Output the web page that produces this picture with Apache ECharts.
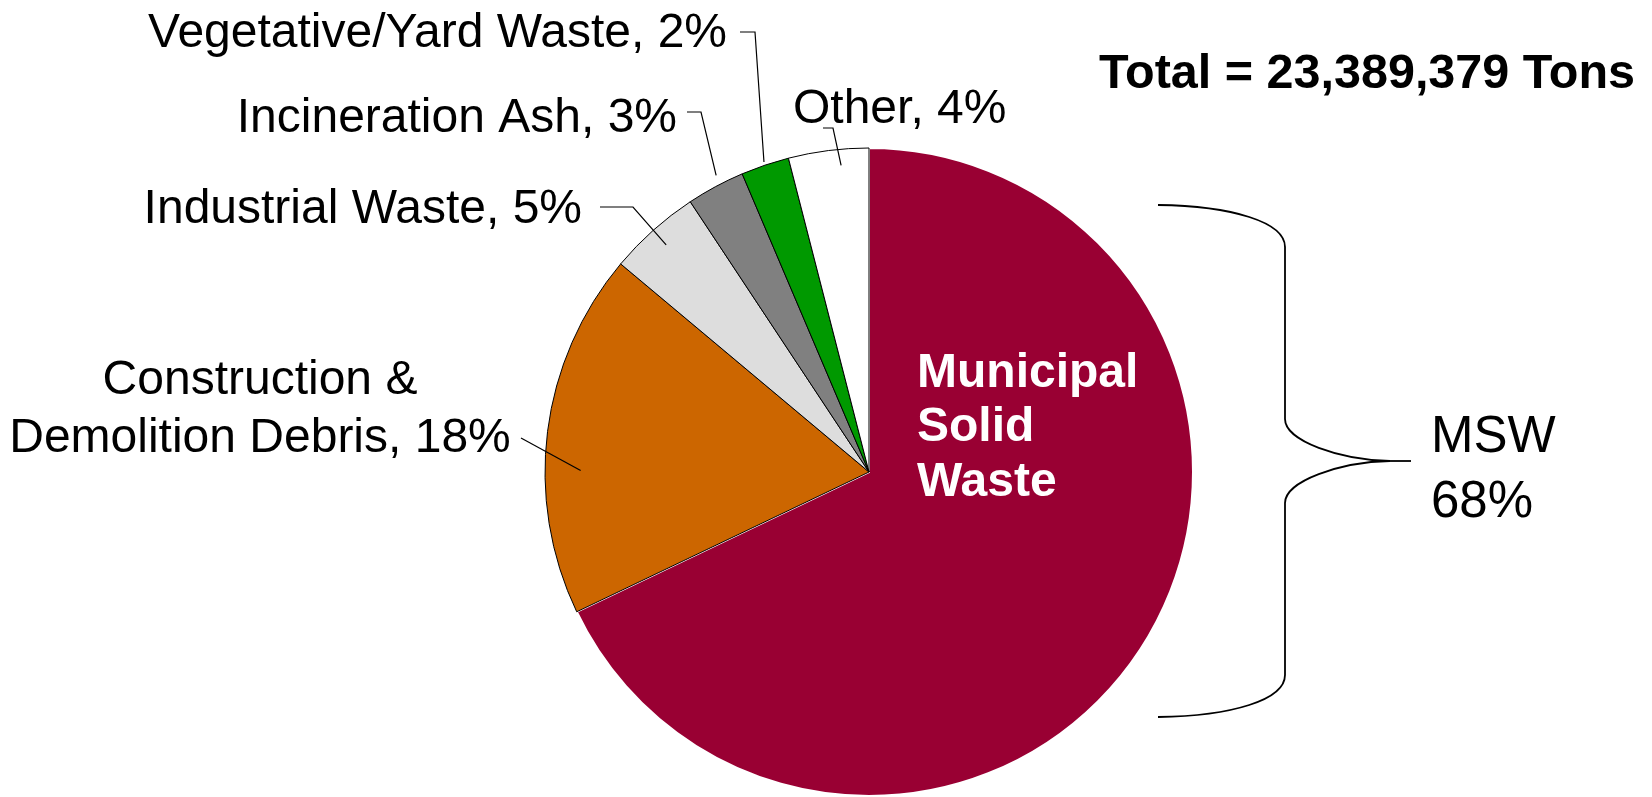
<!DOCTYPE html>
<html>
<head>
<meta charset="utf-8">
<script src="https://cdn.jsdelivr.net/npm/echarts@6/dist/echarts.min.js"></script>
<style>
  html, body { margin: 0; padding: 0; background: #fff; }
  #chart { width: 1652px; height: 797px; }
</style>
</head>
<body>
<div id="chart"></div>
<script>
// slice data, clockwise from 12 o'clock
const categories = ['Municipal Solid Waste', 'Construction & Demolition Debris', 'Industrial Waste', 'Incineration Ash', 'Vegetative/Yard Waste', 'Other'];
const labelNames = ['Municipal\nSolid\nWaste', 'Construction &\nDemolition Debris', 'Industrial Waste', 'Incineration Ash', 'Vegetative/Yard Waste', 'Other'];
const shares = [67.9, 18.2, 4.6, 2.9, 2.4, 4.0];
const totalTons = '23,389,379';
const bracketName = 'MSW';

const sliceColors = ['#990033', '#cc6600', '#dddddd', '#808080', '#009900', '#ffffff'];
const FONT = '"Liberation Sans", Arial, sans-serif';

const cx = 869, cy = 472, R = 324;

// where each label sits, and how its leader runs (start near text, elbow, then into the slice)
const labelSpots = [
  { x: 917, y: 428, align: 'left' },
  { x: 260, y: 410, align: 'center', start: [521, 438], elbow: [521, 438], k: 0.89, dA: -6.9 },
  { x: 582, y: 210, align: 'right', start: [600, 207], elbow: [633, 207], k: 0.94, dA: 0 },
  { x: 677, y: 119, align: 'right', start: [687, 112], elbow: [701, 112], k: 1.03, dA: 1 },
  { x: 727, y: 34, align: 'right', start: [740, 32], elbow: [755, 32], k: 1.01, dA: 0 },
  { x: 793, y: 110, align: 'left', start: [823, 128], elbow: [833, 128], k: 0.95, dA: 2 }
];

const sum = shares.reduce((a, c) => a + c, 0);
const midAngles = [];
let acc = 0;
shares.forEach(v => {
  midAngles.push((acc + v / 2) / sum * 360);
  acc += v;
});

const data = categories.map((name, i) => {
  const item = {
    name: name,
    value: shares[i],
    itemStyle: { color: sliceColors[i], borderColor: '#000', borderWidth: 1 },
  };
  if (i === 0) {
    item.itemStyle.borderColor = '#fff';
    item.itemStyle.borderWidth = 2;
    item.label = { position: 'inside', color: '#fff', fontWeight: 'bold', lineHeight: 54.5 };
  }
  if (i === 1) {
    item.label = { lineHeight: 58 };
  }
  return item;
});

// leader lines drawn above the slices so the part inside a slice stays visible
const leaders = labelSpots.filter(s => s.start).map(s => {
  const i = labelSpots.indexOf(s);
  const a = (midAngles[i] + s.dA) * Math.PI / 180;
  const r = R * s.k;
  const inner = [cx + r * Math.sin(a), cy - r * Math.cos(a)];
  return {
    type: 'polyline',
    silent: true,
    z: 10,
    shape: { points: [s.start, s.elbow, inner] },
    style: { stroke: '#000', lineWidth: 1.2, fill: null },
  };
});

const chart = echarts.init(document.getElementById('chart'));
const mswPct = Math.round(shares[0] / sum * 100);

// curly brace next to the pie
const braceStroke = { stroke: '#000', lineWidth: 1.8, fill: null };
const curve = (x1, y1, c1x, c1y, c2x, c2y, x2, y2) => ({
  type: 'bezierCurve',
  silent: true,
  shape: { x1, y1, cpx1: c1x, cpy1: c1y, cpx2: c2x, cpy2: c2y, x2, y2 },
  style: braceStroke,
});
const seg = (x1, y1, x2, y2) => ({
  type: 'line',
  silent: true,
  shape: { x1, y1, x2, y2 },
  style: braceStroke,
});

const option = {
  animation: false,
  title: {
    text: 'Total = ' + totalTons + ' Tons',
    right: 17,
    top: 50,
    padding: 0,
    textStyle: { fontFamily: FONT, fontSize: 48.5, fontWeight: 'bold', color: '#000' },
  },
  series: [
    {
      type: 'pie',
      center: [cx, cy],
      radius: R,
      startAngle: 90,
      clockwise: true,
      silent: true,
      avoidLabelOverlap: false,
      label: {
        show: true,
        position: 'outside',
        color: '#000',
        fontFamily: FONT,
        fontSize: 48,
        formatter(p) {
          if (p.dataIndex === 0) return labelNames[0];
          return labelNames[p.dataIndex] + ', ' + Math.round(p.percent) + '%';
        },
      },
      labelLine: { show: false },
      labelLayout(params) {
        const s = labelSpots[params.dataIndex];
        return { x: s.x, y: s.y, align: s.align, verticalAlign: 'middle' };
      },
      emphasis: { disabled: true },
      data: data,
    },
  ],
  graphic: [
    ...leaders,
    curve(1158, 205, 1232, 206, 1285, 222, 1285, 247),
    seg(1285, 247, 1285, 419),
    curve(1285, 419, 1285, 441, 1340, 460, 1390, 461),
    seg(1390, 461, 1411, 461),
    curve(1390, 461, 1340, 462, 1285, 481, 1285, 503),
    seg(1285, 503, 1285, 675),
    curve(1285, 675, 1285, 700, 1232, 716, 1158, 717),
    {
      type: 'text',
      x: 1431,
      y: 470,
      silent: true,
      style: {
        text: bracketName + '\n' + mswPct + '%',
        fill: '#000',
        font: '51px ' + FONT,
        lineHeight: 65,
        align: 'left',
        verticalAlign: 'middle',
      },
    },
  ],
};

chart.setOption(option);
</script>
</body>
</html>
